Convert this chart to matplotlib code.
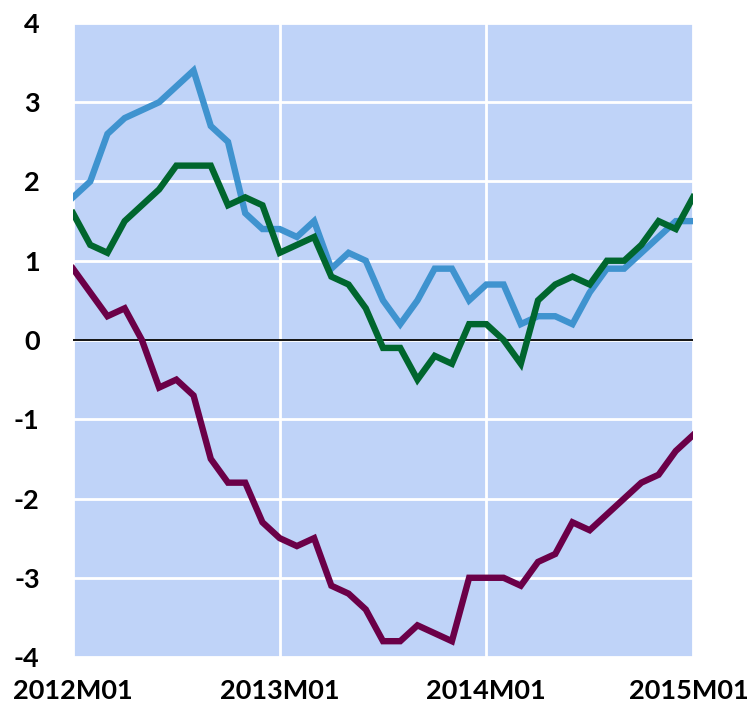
import numpy as np
import matplotlib
matplotlib.use("Agg")
import matplotlib.pyplot as plt
import matplotlib.transforms as mtransforms

# monthly data, 2012M01 .. 2015M01
months = [f"{y}M{m:02d}" for y in range(2012, 2016) for m in range(1, 13)][:37]

blue = [1.8, 2.0, 2.6, 2.8, 2.9, 3.0, 3.2, 3.4, 2.7, 2.5, 1.6, 1.4,
        1.4, 1.3, 1.5, 0.9, 1.1, 1.0, 0.5, 0.2, 0.5, 0.9, 0.9, 0.5,
        0.7, 0.7, 0.2, 0.3, 0.3, 0.2, 0.6, 0.9, 0.9, 1.1, 1.3, 1.5,
        1.5]
green = [1.6, 1.2, 1.1, 1.5, 1.7, 1.9, 2.2, 2.2, 2.2, 1.7, 1.8, 1.7,
         1.1, 1.2, 1.3, 0.8, 0.7, 0.4, -0.1, -0.1, -0.5, -0.2, -0.3, 0.2,
         0.2, 0.0, -0.3, 0.5, 0.7, 0.8, 0.7, 1.0, 1.0, 1.2, 1.5, 1.4,
         1.8]
purple = [0.9, 0.6, 0.3, 0.4, 0.0, -0.6, -0.5, -0.7, -1.5, -1.8, -1.8, -2.3,
          -2.5, -2.6, -2.5, -3.1, -3.2, -3.4, -3.8, -3.8, -3.6, -3.7, -3.8, -3.0,
          -3.0, -3.0, -3.1, -2.8, -2.7, -2.3, -2.4, -2.2, -2.0, -1.8, -1.7, -1.4,
          -1.2]

xtick_labels = ["2012M01", "2013M01", "2014M01", "2015M01"]
yticks = [-4, -3, -2, -1, 0, 1, 2, 3, 4]

plt.rcParams['font.family'] = ['Lato', 'DejaVu Sans']

fig = plt.figure(figsize=(7.51, 7.11), dpi=100)
ax = fig.add_axes([0.0972, 0.0759, 0.8256, 0.8918])
ax.set_facecolor('#bfd3f8')

x = np.arange(len(months))
ax.plot(x, blue, color='#3f93cf', lw=4.6, solid_joinstyle='miter', zorder=3)
ax.plot(x, green, color='#00662e', lw=4.6, solid_joinstyle='miter', zorder=4)
ax.plot(x, purple, color='#6b0048', lw=4.6, solid_joinstyle='miter', zorder=3)

ax.axhline(0, color='black', lw=1.3, zorder=2)

ax.set_xlim(0, 36)
ax.set_ylim(-4, 4)
ax.set_xticks([months.index(m) for m in xtick_labels])
ax.set_xticklabels(xtick_labels)
ax.set_yticks(yticks)
ax.set_yticklabels([str(v) for v in yticks])

ax.grid(True, color='white', lw=2, zorder=1)
ax.set_axisbelow(True)
for s in ax.spines.values():
    s.set_visible(False)
ax.tick_params(length=0, labelsize=19.5)
ax.tick_params(axis='y', pad=24)
ax.tick_params(axis='x', pad=16)
for lab in ax.get_xticklabels() + ax.get_yticklabels():
    lab.set_fontweight('bold')

# nudge the last x label so it stays inside the figure
last = ax.get_xticklabels()[-1]
last.set_transform(last.get_transform() + mtransforms.ScaledTranslation(-4 / 100, 0, fig.dpi_scale_trans))

fig.savefig("out.png", dpi=100)
